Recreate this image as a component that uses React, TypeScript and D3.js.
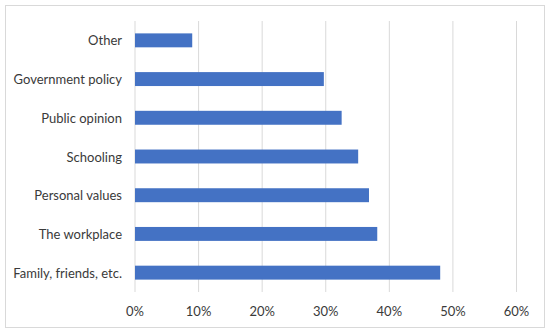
import React from "react";
import * as d3 from "d3";

const categories = [
  "Other",
  "Government policy",
  "Public opinion",
  "Schooling",
  "Personal values",
  "The workplace",
  "Family, friends, etc.",
];
const values = [0.09, 0.297, 0.325, 0.351, 0.368, 0.381, 0.48];
const ticks = [0, 0.1, 0.2, 0.3, 0.4, 0.5, 0.6];

const App = () => {
  const width = 550;
  const height = 333;
  const margin = { top: 21, right: 33.5, bottom: 41, left: 135 };

  const x = d3.scaleLinear().domain([0, 0.6]).range([margin.left, width - margin.right]);
  const y = d3
    .scaleBand()
    .domain(categories)
    .range([margin.top, height - margin.bottom])
    .paddingInner(0.64)
    .paddingOuter(0.32);

  const fmt = d3.format(".0%");
  const font = "Lato, 'Noto Sans', sans-serif";

  return (
    <svg
      width={width}
      height={height}
      style={{ position: "absolute", left: 0, top: 0, background: "#fff" }}
    >
      <rect x={5.5} y={5.5} width={539} height={322} fill="#fff" stroke="#d9d9d9" strokeWidth={1} />

      <g>
        {ticks.map((t, i) => (
          <line
            key={`grid-${i}`}
            x1={x(t)}
            x2={x(t)}
            y1={margin.top}
            y2={height - margin.bottom}
            stroke="#d9d9d9"
            strokeWidth={1}
          />
        ))}
      </g>

      <g>
        {categories.map((c, i) => (
          <rect
            key={c}
            x={x(0)}
            y={y(c)}
            width={x(values[i]) - x(0)}
            height={y.bandwidth()}
            fill="#4472c4"
          />
        ))}
      </g>

      <g fontFamily={font} fontSize={13} fill="#3a3a3a">
        {categories.map((c) => (
          <text key={c} x={122} y={(y(c) ?? 0) + y.bandwidth() / 2} textAnchor="end" dominantBaseline="central">
            {c}
          </text>
        ))}
        {ticks.map((t, i) => (
          <text key={`tick-${i}`} x={x(t)} y={311} textAnchor="middle" dominantBaseline="central">
            {fmt(t)}
          </text>
        ))}
      </g>
    </svg>
  );
};

export default App;
